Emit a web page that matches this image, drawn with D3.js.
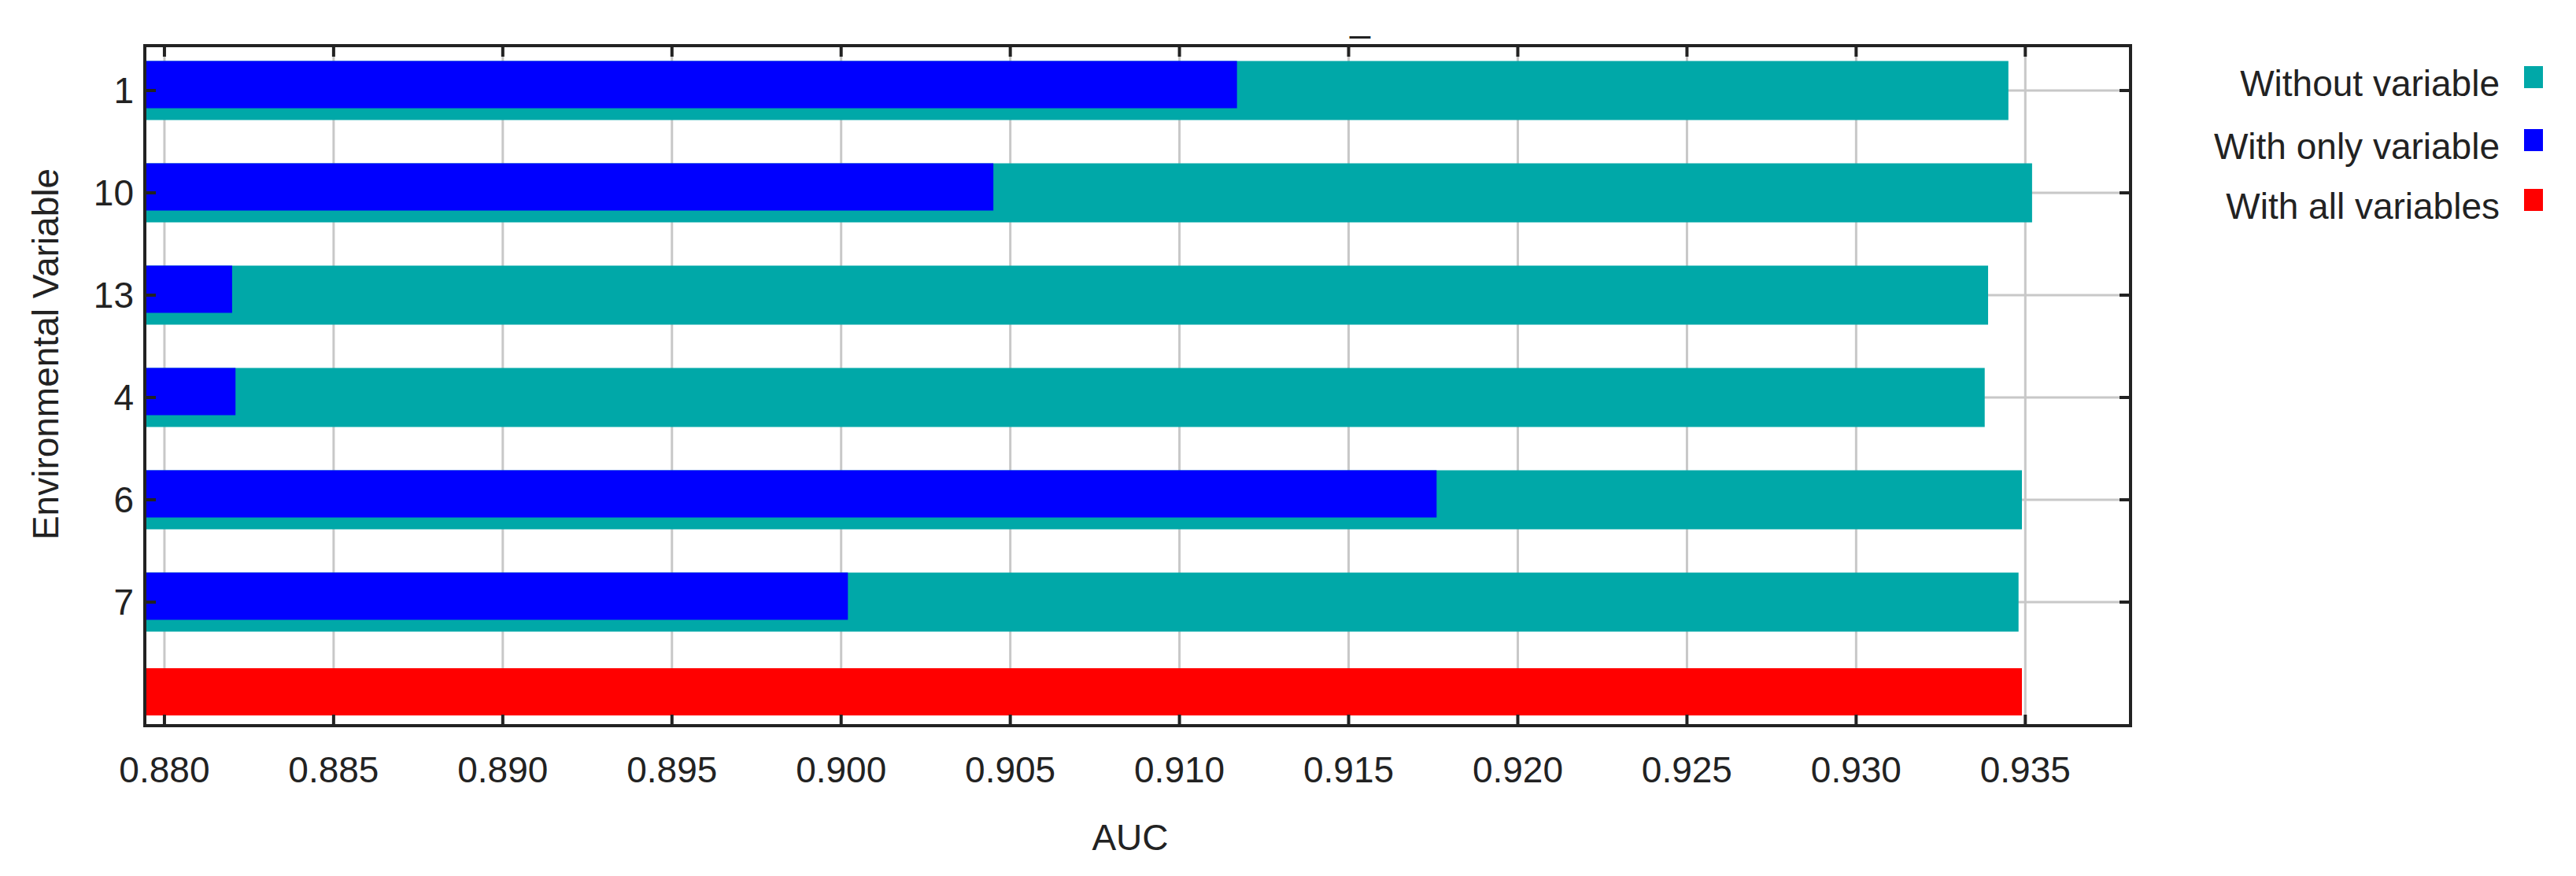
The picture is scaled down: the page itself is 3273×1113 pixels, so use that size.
<!DOCTYPE html>
<html><head><meta charset="utf-8">
<script src="https://cdn.jsdelivr.net/npm/d3@7"></script>
<style>body{margin:0;background:#fff}text{font-family:"Liberation Sans",Arial,sans-serif;fill:#222}</style>
</head><body><svg id="c" width="3273" height="1113"></svg>
<script>
const categories = ["1","10","13","4","6","7"];
const withoutVar = [0.9345,0.9352,0.9339,0.9338,0.9349,0.9348];
const withOnly = [0.9117,0.9045,0.8820,0.8821,0.9176,0.9002];
const withAll = 0.9349;
const xTicks = [0.880,0.885,0.890,0.895,0.900,0.905,0.910,0.915,0.920,0.925,0.930,0.935];
const legendLabels = ["Without variable","With only variable","With all variables"];
const colors = ["#00a8a8","#0000ff","#ff0000"];

const svg = d3.select("#c");
const L=184,R=2707,T=58,B=922;
const x = d3.scaleLinear().domain([0.87942,0.93811]).range([L,R]);
const y = d3.scalePoint().domain([...categories,"all"]).range([115,895]);
const H1=75,H2=60,FS=46;

svg.append("g").selectAll("line").data(xTicks).join("line")
  .attr("x1",d=>x(d)).attr("x2",d=>x(d)).attr("y1",T).attr("y2",B)
  .attr("stroke","#c8c8c8").attr("stroke-width",3);
svg.append("g").selectAll("line").data(categories).join("line")
  .attr("x1",L).attr("x2",R).attr("y1",d=>y(d)).attr("y2",d=>y(d))
  .attr("stroke","#c8c8c8").attr("stroke-width",3);

svg.append("g").selectAll("rect").data(categories).join("rect")
  .attr("x",L).attr("y",d=>y(d)-H1/2).attr("height",H1)
  .attr("width",(d,i)=>x(withoutVar[i])-L).attr("fill",colors[0]);
svg.append("g").selectAll("rect").data(categories).join("rect")
  .attr("x",L).attr("y",d=>y(d)-H1/2).attr("height",H2)
  .attr("width",(d,i)=>x(withOnly[i])-L).attr("fill",colors[1]);
svg.append("rect").attr("x",L).attr("y",y("all")-H2/2-16).attr("height",H2)
  .attr("width",x(withAll)-L).attr("fill",colors[2]);

svg.append("rect").attr("x",L).attr("y",T).attr("width",R-L).attr("height",B-T)
  .attr("fill","none").attr("stroke","#222").attr("stroke-width",4);
const tk=14;
xTicks.forEach(d=>{
  svg.append("line").attr("x1",x(d)).attr("x2",x(d)).attr("y1",T).attr("y2",T+tk).attr("stroke","#222").attr("stroke-width",4);
  svg.append("line").attr("x1",x(d)).attr("x2",x(d)).attr("y1",B).attr("y2",B-tk).attr("stroke","#222").attr("stroke-width",4);
});
categories.forEach(d=>{
  svg.append("line").attr("x1",L).attr("x2",L+tk).attr("y1",y(d)).attr("y2",y(d)).attr("stroke","#222").attr("stroke-width",4);
  svg.append("line").attr("x1",R).attr("x2",R-tk).attr("y1",y(d)).attr("y2",y(d)).attr("stroke","#222").attr("stroke-width",4);
});

svg.append("g").selectAll("text").data(xTicks).join("text")
  .attr("x",d=>x(d)).attr("y",994).attr("text-anchor","middle").attr("font-size",FS)
  .text(d=>d3.format(".3f")(d));
svg.append("g").selectAll("text").data(categories).join("text")
  .attr("x",L-14).attr("y",d=>y(d)+16).attr("text-anchor","end").attr("font-size",FS).text(d=>d);
svg.append("text").attr("x",1436).attr("y",1080).attr("text-anchor","middle").attr("font-size",FS).text("AUC");
svg.append("text").attr("transform","translate(74,450) rotate(-90)").attr("text-anchor","middle").attr("font-size",FS).text("Environmental Variable");
svg.append("text").attr("x",1728).attr("y",40).attr("text-anchor","middle").attr("font-size",FS).text("_");

legendLabels.forEach((t,i)=>{
  const yy=[122,202,278][i];
  svg.append("text").attr("x",3176).attr("y",yy).attr("text-anchor","end").attr("font-size",FS).text(t);
  svg.append("rect").attr("x",3207).attr("y",yy-38).attr("width",24).attr("height",28).attr("fill",colors[i]);
});
</script></body></html>
